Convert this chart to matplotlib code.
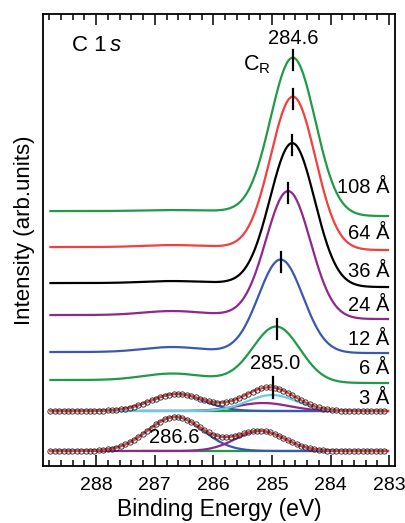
import numpy as np
import matplotlib
matplotlib.use("Agg")
import matplotlib.pyplot as plt

plt.rcParams['font.family'] = ['Liberation Sans', 'DejaVu Sans']
plt.rcParams['mathtext.fontset'] = 'custom'
plt.rcParams['mathtext.rm'] = 'Liberation Sans'
plt.rcParams['mathtext.it'] = 'Liberation Sans:italic'

# measured spectra (thickness, colour, left/right background, peak centre, sigma, height, small bump near 286.7)
labels = ["108 Å", "64 Å", "36 Å", "24 Å", "12 Å", "6 Å"]
colors = ["#1f9a48", "#f2403c", "#000000", "#8e278e", "#3a58b0", "#1f9a48"]
base_left = [25.5, 21.9, 18.3, 15.1, 11.4, 8.6]
base_right = [25.0, 21.6, 17.9, 14.7, 11.3, 8.3]
centers = [284.64, 284.64, 284.65, 284.72, 284.85, 284.92]
sigmas = [0.38, 0.38, 0.38, 0.38, 0.38, 0.40]
heights = [15.6, 15.2, 14.2, 12.6, 9.3, 5.5]
bumps = [0.1, 0.2, 0.2, 0.4, 0.5, 0.65]
label_y = [27.9, 23.3, 19.5, 16.1, 12.7, 9.8]

# fitted spectra: 3 Å and bare surface (centre, sigma, height)
fit3_base = 5.5
fit3_blue = (286.62, 0.45, 1.7)
fit3_cyan = (285.00, 0.42, 1.6)
fit3_purple = (285.15, 0.45, 0.8)
fit0_base = 1.5
fit0_blue = (286.65, 0.47, 3.4)
fit0_purple = (285.20, 0.42, 2.0)

x_start, x_end = 288.78, 283.02


def gauss(x, c, s, h):
    return h * np.exp(-(x - c) ** 2 / (2 * s ** 2))


fig = plt.figure(figsize=(4.06, 5.23), dpi=100)
ax = fig.add_axes([0.107, 0.109, 0.866, 0.864])
x = np.linspace(x_start, x_end, 600)

for i in range(len(labels)):
    step = 1 / (1 + np.exp(-(x - centers[i]) / (0.6 * sigmas[i])))
    bg = base_right[i] + (base_left[i] - base_right[i]) * step
    y = bg + gauss(x, centers[i], sigmas[i], heights[i]) + gauss(x, 286.7, 0.5, bumps[i])
    ax.plot(x, y, color=colors[i], lw=1.6)
    top = base_right[i] + heights[i] + 0.5 * (base_left[i] - base_right[i])
    ax.plot([centers[i], centers[i]], [top - 1.2, top + 0.8], color="black", lw=1.6)
    ax.text(283.0, label_y[i], labels[i], ha="right", va="center", fontsize=14.5)

# 3 Å fit
b3 = gauss(x, *fit3_blue)
c3 = gauss(x, *fit3_cyan)
p3 = gauss(x, *fit3_purple)
ax.plot([287.2, 284.0], [fit3_base, fit3_base], color="#1f9a48", lw=1.6)
ax.plot(x, fit3_base + b3, color="#3a58b0", lw=1.6)
ax.plot(x, fit3_base + p3, color="#8e278e", lw=1.6)
ax.plot(x, fit3_base + c3, color="#6ccbe0", lw=1.6)
ax.plot(x, fit3_base + b3 + c3 + p3, color="#f2403c", lw=1.6)
xd = np.arange(x_start, x_end, -0.075)
yd = fit3_base + gauss(xd, *fit3_blue) + gauss(xd, *fit3_cyan) + gauss(xd, *fit3_purple)
ax.plot(xd, yd, "o", ms=3.8, mfc="none", mec="#222222", mew=0.6)
ax.plot([284.98, 284.98], [6.8, 8.9], color="black", lw=1.6)
ax.text(283.0, 6.8, "3 Å", ha="right", va="center", fontsize=14.5)

# bare surface fit
b0 = gauss(x, *fit0_blue)
p0 = gauss(x, *fit0_purple)
ax.plot([287.2, 284.0], [fit0_base, fit0_base], color="#1f9a48", lw=1.6)
ax.plot(x, fit0_base + b0, color="#3a58b0", lw=1.6)
ax.plot(x, fit0_base + p0, color="#8e278e", lw=1.6)
ax.plot(x, fit0_base + b0 + p0, color="#f2403c", lw=1.6)
yd0 = fit0_base + gauss(xd, *fit0_blue) + gauss(xd, *fit0_purple)
ax.plot(xd, yd0, "o", ms=3.8, mfc="none", mec="#222222", mew=0.6)

t1 = ax.text(288.42, 42.1, "C 1", ha="left", va="center", fontsize=16)
ax.annotate("s", xy=(1, 0.5), xycoords=t1, xytext=(3, 0), textcoords="offset points",
            ha="left", va="center", fontsize=16, style="italic")
ax.text(284.64, 42.8, "284.6", ha="center", va="center", fontsize=14.5)
ax.text(285.5, 40.1, "C$_\\mathrm{R}$", ha="left", va="center", fontsize=15.5)
ax.text(284.95, 10.3, "285.0", ha="center", va="center", fontsize=14.5)
ax.text(286.67, 2.9, "286.6", ha="center", va="center", fontsize=14.5)

ax.set_xlim(288.9, 282.9)
ax.set_ylim(0, 45.2)
ax.set_xticks([288, 287, 286, 285, 284, 283])
ax.set_xticks(np.arange(283, 288.9, 0.2), minor=True)
ax.set_yticks([])
ax.tick_params(axis="x", which="both", direction="in", top=True, width=1.1, labelsize=14, pad=8)
ax.tick_params(axis="x", which="major", length=8)
ax.tick_params(axis="x", which="minor", length=4.5)
for s in ax.spines.values():
    s.set_linewidth(1.3)
ax.set_xlabel("Binding Energy (eV)", fontsize=16.5, labelpad=3)
ax.set_ylabel("Intensity (arb.units)", fontsize=16, va="center")
ax.yaxis.set_label_coords(-0.053, 0.521)

fig.savefig("out.png", dpi=100)
